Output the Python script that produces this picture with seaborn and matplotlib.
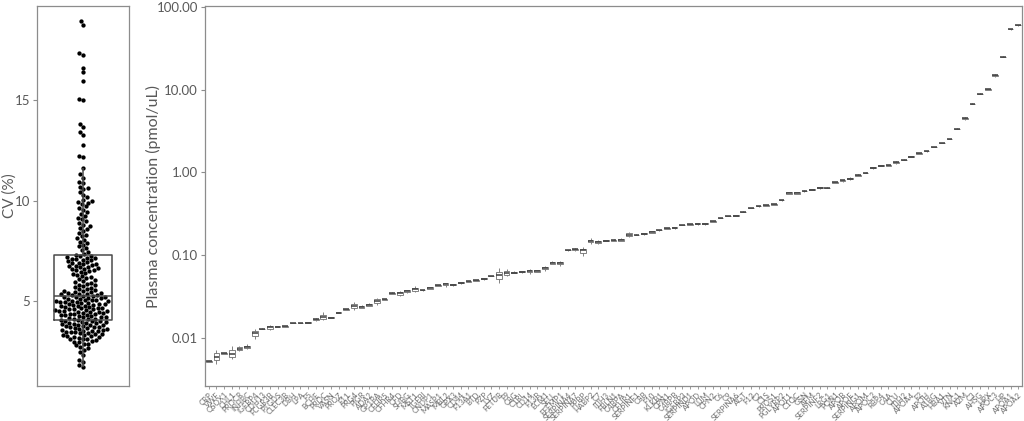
import matplotlib
matplotlib.use("Agg")
import matplotlib.pyplot as plt
from matplotlib.ticker import FixedLocator, NullLocator
import pandas as pd
import seaborn as sns

# proteins, ordered by median concentration
proteins = [
    "CRP", "VWF", "QSOX1", "CHL1", "PROCR", "INHBC", "IGFBP4", "CDH13", "FCGR3B", "PTGDS",
    "CLEC3B", "DBH", "LPA", "F5", "BCHE", "PROC", "VASN", "PROZ", "F11", "PRG4",
    "PIGR", "ADA2", "GP1BA", "CFHR5", "CFHR4", "CFD", "SHBG", "MST1", "TGFBI", "CNDP1",
    "MASP1", "MBL2", "GPX3", "CD44", "F13A1", "BTD", "PZP", "LYZ", "FETUB", "F9",
    "C8G", "C1RL", "CD14", "F13B", "ECM1", "SELL", "EFEMP1", "SERPINA4", "SERPINA7", "PPBP",
    "HABP2", "C7", "ITIH3", "FBLN1", "C4BPA", "CFHR1", "SERPINF1", "C8B", "F10", "KLKB1",
    "CPN1", "C4BPB", "IGFBP3", "SERPIND1", "APOD", "LUM", "CPN2", "C6", "C9", "SERPINA6",
    "AGT", "F12", "C2", "C1S", "PROS1", "PGLYRP2", "APOL1", "C1QC", "GSN", "AFM",
    "SERPINF2", "LRG1", "PON1", "APOB", "APOE", "SERPING1", "APOM", "APOC2", "RBP4", "C4A",
    "CLU", "ITIH2", "APOA4", "F2", "APOH", "A1BG", "HBA1", "VTN", "KNG1", "A2M",
    "C3", "AHSG", "HPX", "APOC3", "HP", "APOA1", "APOA2",
]

# three replicate measurements per protein (pmol/uL)
conc_low = [
    0.0051, 0.0048, 0.0064, 0.0055, 0.0070, 0.0073, 0.0096, 0.0126, 0.0124, 0.0134,
    0.0135, 0.0149, 0.0149, 0.0150, 0.0160, 0.0162, 0.0173, 0.0198, 0.0217, 0.0215,
    0.0226, 0.0240, 0.0252, 0.0287, 0.0336, 0.0322, 0.0352, 0.0360, 0.0373, 0.0388,
    0.0426, 0.0415, 0.0428, 0.0448, 0.0476, 0.0489, 0.0505, 0.0551, 0.0460, 0.0560,
    0.0600, 0.0615, 0.0595, 0.0620, 0.0650, 0.0770, 0.0740, 0.1135, 0.1110, 0.0980,
    0.1370, 0.1380, 0.1460, 0.1480, 0.1460, 0.1660, 0.1740, 0.1770, 0.1850, 0.1980,
    0.2050, 0.2090, 0.2290, 0.2330, 0.2320, 0.2310, 0.2530, 0.2800, 0.2940, 0.2930,
    0.3310, 0.3700, 0.3850, 0.3930, 0.4050, 0.4560, 0.5450, 0.5450, 0.5820, 0.6070,
    0.6350, 0.6440, 0.7400, 0.7750, 0.8100, 0.9050, 0.9800, 1.1100, 1.1800, 1.2000,
    1.2700, 1.4000, 1.5300, 1.6700, 1.7800, 2.0100, 2.2500, 2.5100, 3.3400, 4.3500,
    6.7200, 8.9000, 9.9000, 14.400, 24.900, 53.300, 59.600,
]
conc_mid = [
    0.0052, 0.0059, 0.0065, 0.0064, 0.0074, 0.0078, 0.0115, 0.0128, 0.0134, 0.0136,
    0.0137, 0.0151, 0.0151, 0.0153, 0.0167, 0.0178, 0.0175, 0.0201, 0.0220, 0.0245,
    0.0235, 0.0250, 0.0280, 0.0291, 0.0345, 0.0345, 0.0365, 0.0385, 0.0377, 0.0400,
    0.0430, 0.0443, 0.0440, 0.0462, 0.0481, 0.0494, 0.0518, 0.0557, 0.0570, 0.0600,
    0.0615, 0.0630, 0.0640, 0.0640, 0.0690, 0.0810, 0.0810, 0.1150, 0.1170, 0.1160,
    0.1480, 0.1450, 0.1500, 0.1520, 0.1530, 0.1760, 0.1760, 0.1820, 0.1900, 0.2000,
    0.2100, 0.2140, 0.2310, 0.2350, 0.2380, 0.2380, 0.2550, 0.2820, 0.2960, 0.3000,
    0.3340, 0.3730, 0.3900, 0.4000, 0.4120, 0.4600, 0.5630, 0.5630, 0.5960, 0.6170,
    0.6520, 0.6520, 0.7550, 0.7980, 0.8400, 0.9250, 0.9900, 1.1400, 1.2100, 1.2200,
    1.3200, 1.4200, 1.5500, 1.7000, 1.8000, 2.0300, 2.2700, 2.5300, 3.3700, 4.5100,
    6.7700, 8.9600, 10.100, 14.900, 25.100, 53.700, 60.100,
]
conc_high = [
    0.0053, 0.0071, 0.0066, 0.0080, 0.0080, 0.0083, 0.0128, 0.0130, 0.0142, 0.0138,
    0.0139, 0.0153, 0.0153, 0.0155, 0.0174, 0.0205, 0.0177, 0.0204, 0.0223, 0.0270,
    0.0250, 0.0262, 0.0305, 0.0295, 0.0356, 0.0372, 0.0382, 0.0420, 0.0381, 0.0412,
    0.0434, 0.0465, 0.0450, 0.0474, 0.0486, 0.0499, 0.0530, 0.0563, 0.0690, 0.0680,
    0.0635, 0.0650, 0.0680, 0.0665, 0.0740, 0.0860, 0.0860, 0.1165, 0.1215, 0.1240,
    0.1600, 0.1520, 0.1540, 0.1560, 0.1600, 0.1900, 0.1780, 0.1870, 0.1960, 0.2020,
    0.2150, 0.2190, 0.2330, 0.2370, 0.2440, 0.2450, 0.2570, 0.2840, 0.2980, 0.3070,
    0.3370, 0.3760, 0.3950, 0.4080, 0.4190, 0.4640, 0.5800, 0.5800, 0.6100, 0.6270,
    0.6680, 0.6600, 0.7700, 0.8200, 0.8700, 0.9450, 1.0000, 1.1700, 1.2400, 1.2400,
    1.3800, 1.4400, 1.5700, 1.7300, 1.8200, 2.0500, 2.2900, 2.5500, 3.4000, 4.6700,
    6.8200, 9.0200, 10.300, 15.400, 25.300, 54.100, 60.600,
]

# coefficient of variation per measurement (%)
cv_values = [
    1.72, 1.81, 1.95, 2.08, 2.31, 2.46, 2.57, 2.66, 2.71, 2.79, 2.85, 2.88, 2.94, 2.98,
    3.01, 3.04, 3.09, 3.12, 3.12, 3.17, 3.20, 3.22, 3.25, 3.27, 3.30, 3.30, 3.35, 3.36,
    3.39, 3.42, 3.44, 3.45, 3.48, 3.49,
    3.51, 3.53, 3.56, 3.58, 3.61, 3.62, 3.64, 3.66, 3.69, 3.71, 3.72, 3.74, 3.76, 3.79,
    3.80, 3.82, 3.84, 3.87, 3.89, 3.90, 3.92, 3.94, 3.97, 3.99,
    4.00, 4.02, 4.05, 4.07, 4.10, 4.11, 4.12, 4.15, 4.18, 4.20, 4.21, 4.23, 4.26, 4.28,
    4.29, 4.31, 4.33, 4.36, 4.37, 4.39, 4.41, 4.44, 4.45, 4.47, 4.48, 4.50,
    4.51, 4.53, 4.56, 4.58, 4.59, 4.61, 4.63, 4.66, 4.67, 4.69, 4.71, 4.74, 4.75, 4.77,
    4.79, 4.82, 4.84, 4.85, 4.87, 4.90, 4.92, 4.93, 4.95, 4.97, 4.98, 4.99,
    5.01, 5.03, 5.05, 5.07, 5.09, 5.11, 5.14, 5.16, 5.18, 5.20, 5.22, 5.24, 5.27, 5.29,
    5.31, 5.33, 5.35, 5.37, 5.40, 5.42, 5.44, 5.46, 5.48, 5.50,
    5.53, 5.58, 5.62, 5.66, 5.70, 5.74, 5.78, 5.82, 5.86, 5.90, 5.94, 5.98,
    6.03, 6.08, 6.13, 6.18, 6.23, 6.28, 6.33, 6.38, 6.43, 6.48,
    6.52, 6.55, 6.58, 6.61, 6.64, 6.67, 6.70, 6.73, 6.76, 6.79, 6.82, 6.85, 6.88, 6.91,
    6.94, 6.97,
    7.02, 7.05, 7.08, 7.10, 7.13, 7.16, 7.19, 7.22, 7.26, 7.30, 7.36, 7.43,
    7.56, 7.64, 7.72, 7.80, 7.88, 7.96,
    8.05, 8.13, 8.22, 8.30, 8.38, 8.46,
    8.56, 8.64, 8.72, 8.80, 8.88, 8.96,
    9.06, 9.15, 9.24, 9.33, 9.42,
    9.55, 9.63, 9.72, 9.81, 9.90, 9.93, 9.97,
    10.05, 10.18, 10.30, 10.44, 10.55, 10.62, 10.68, 10.85, 10.92, 11.12, 11.30, 11.60,
    12.18, 12.22, 12.78, 13.25, 13.42, 13.68, 13.82, 14.98, 15.05, 15.95, 16.38, 16.62,
    17.22, 17.32, 18.72, 18.92,
]

conc_ticks = [0.01, 0.1, 1, 10, 100]
conc_ticklabels = ["0.01", "0.10", "1.00", "10.00", "100.00"]

sns.set_style("white")
plt.rcParams["font.family"] = ["Lato", "DejaVu Sans"]

text_col = "#595959"
frame_col = "#8c8c8c"

fig = plt.figure(figsize=(10.24, 4.21), dpi=100)
ax_cv = fig.add_axes([0.0361, 0.0831, 0.0898, 0.9026])
ax_pc = fig.add_axes([0.2002, 0.0831, 0.7979, 0.9026])

# left: CV distribution
cv_df = pd.DataFrame({"group": "all", "cv": cv_values})
sns.swarmplot(data=cv_df, x="group", y="cv", color="black", size=3.1, ax=ax_cv, zorder=2)
sns.boxplot(data=cv_df, x="group", y="cv", width=0.63, fill=False, color="#4a4a4a",
            linewidth=1.1, showfliers=False, ax=ax_cv,
            capprops=dict(visible=False))
for art in ax_cv.lines:
    art.set_zorder(3)
ax_cv.set_xlim(-0.5, 0.5)
ax_cv.set_ylim(0.77, 19.68)
ax_cv.set_yticks([5, 10, 15])
ax_cv.set_xticks([])
ax_cv.set_xlabel("")
ax_cv.set_ylabel("CV (%)", fontsize=11, color=text_col)
ax_cv.yaxis.set_label_coords(-0.225, 0.5)

# right: concentrations per protein
conc_df = pd.DataFrame({
    "protein": proteins * 3,
    "conc": conc_low + conc_mid + conc_high,
})
sns.boxplot(data=conc_df, x="protein", y="conc", order=proteins, log_scale=True,
            width=0.75, color="white", linecolor="#6e6e6e", linewidth=0.6,
            showfliers=False, ax=ax_pc,
            capprops=dict(visible=False),
            medianprops=dict(color="#3c3c3c", linewidth=1.1))
ax_pc.set_xlim(-0.5, len(proteins) - 0.5)
ax_pc.set_ylim(0.00261, 102.8)
ax_pc.yaxis.set_major_locator(FixedLocator(conc_ticks))
ax_pc.yaxis.set_minor_locator(NullLocator())
ax_pc.set_yticklabels(conc_ticklabels)
ax_pc.set_xlabel("")
ax_pc.set_ylabel("Plasma concentration (pmol/uL)", fontsize=11.5, color=text_col)
ax_pc.yaxis.set_label_coords(-0.054, 0.5)
for lab in ax_pc.get_xticklabels():
    lab.set_rotation(45)
    lab.set_ha("right")
    lab.set_rotation_mode("anchor")
    lab.set_fontsize(5.6)

for ax in (ax_cv, ax_pc):
    for sp in ax.spines.values():
        sp.set_visible(True)
        sp.set_color(frame_col)
        sp.set_linewidth(0.9)
    ax.tick_params(axis="y", left=True, direction="out", length=3, width=0.8,
                   color=frame_col, labelcolor=text_col, labelsize=9.5, pad=2)
ax_pc.tick_params(axis="x", bottom=True, direction="out", length=2.5, width=0.6,
                  color=frame_col, labelcolor="#6a6a6a", pad=1)

fig.savefig("out.png", dpi=100)
